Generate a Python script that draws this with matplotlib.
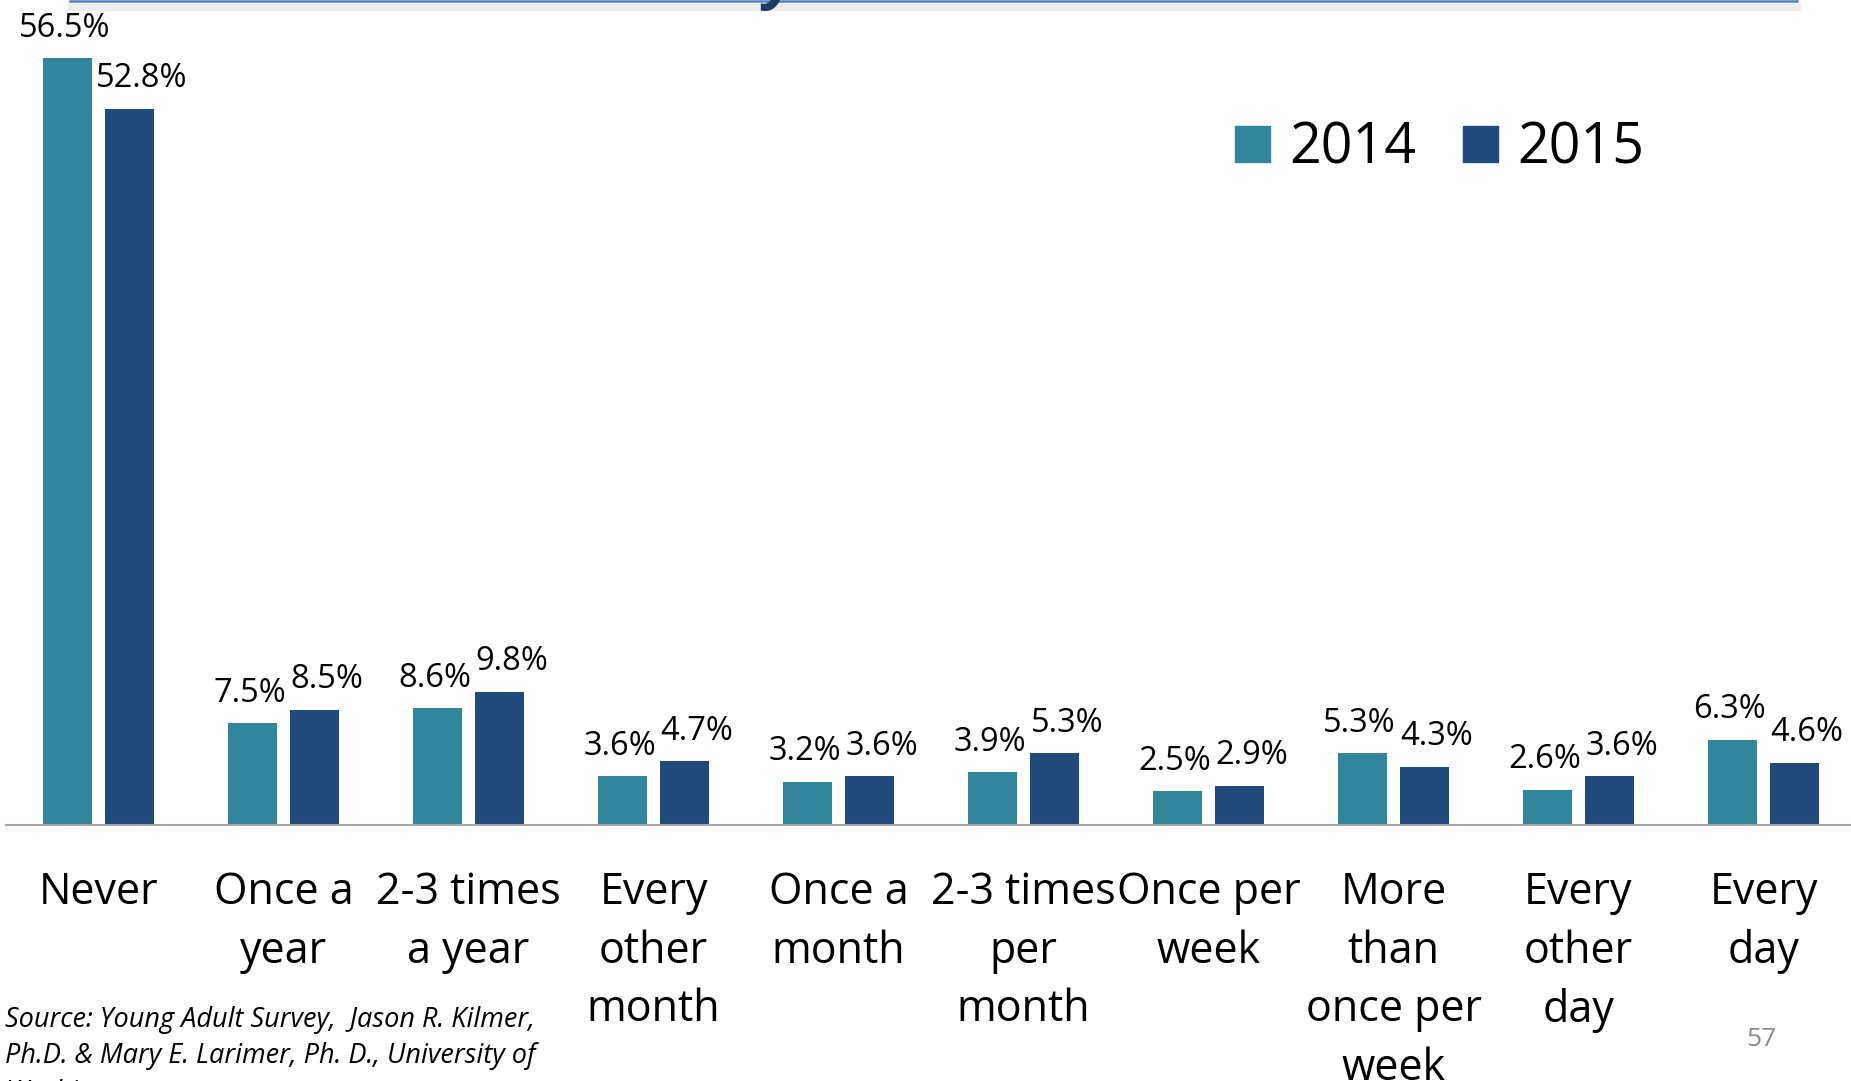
import matplotlib
matplotlib.use('Agg')
import matplotlib.pyplot as plt
from matplotlib.patches import Patch
import numpy as np

plt.rcParams['font.family'] = ['Open Sans', 'DejaVu Sans']

# 数据
categories = ['Never', 'Once a\nyear', '2-3 times\na year', 'Every\nother\nmonth',
              'Once a\nmonth', '2-3 times\nper\nmonth', 'Once per\nweek',
              'More\nthan\nonce per\nweek', 'Every\nother\nday', 'Every\nday']
vals_2014 = [56.5, 7.5, 8.6, 3.6, 3.2, 3.9, 2.5, 5.3, 2.6, 6.3]
vals_2015 = [52.8, 8.5, 9.8, 4.7, 3.6, 5.3, 2.9, 4.3, 3.6, 4.6]
series_names = ['2014', '2015']

c2014 = '#32869c'
c2015 = '#20497c'

W, H = 1851, 1081
fig = plt.figure(figsize=(W / 100, H / 100), dpi=100)

# 坐标轴位置（像素换算）
base_y = 825
ax = fig.add_axes([6 / W, (H - base_y) / H, (W - 6) / W, base_y / H])
ax.set_xlim(-0.5, -0.5 + (W - 6) / 185)
ax.set_ylim(0, base_y / 13.57)

x = np.arange(len(categories))
width = 0.268
off = 0.168
ax.bar(x - off, vals_2014, width, color=c2014)
ax.bar(x + off, vals_2015, width, color=c2015)

# 数据标签
for xi, v in zip(x, vals_2014):
    ax.annotate(f'{v}%', (xi - off, v), xytext=(-2, 15.5), textcoords='offset points',
                ha='center', va='baseline', fontsize=23.5, color='black')
for xi, v in zip(x, vals_2015):
    ax.annotate(f'{v}%', (xi + off, v), xytext=(9, 15.5), textcoords='offset points',
                ha='center', va='baseline', fontsize=23.5, color='black')

# 坐标轴样式
for s in ['top', 'right', 'left']:
    ax.spines[s].set_visible(False)
ax.spines['bottom'].set_color('#a6a6a6')
ax.spines['bottom'].set_linewidth(1.5)
ax.set_yticks([])
ax.set_xticks(x)
ax.set_xticklabels(categories, fontsize=31, linespacing=1.43)
ax.tick_params(axis='x', length=0, pad=32.5)

# 图例
handles = [Patch(color=c2014), Patch(color=c2015)]
fig.legend(handles, series_names, loc='center left', bbox_to_anchor=(1235 / W, 1 - 149 / H),
           ncol=2, frameon=False, fontsize=40, handlelength=0.63, handleheight=0.63,
           handletextpad=0.34, columnspacing=0.85, borderpad=0, borderaxespad=0)

# 来源与页码
fig.text(5 / W, 1 - 1006 / H, 'Source: Young Adult Survey,  Jason R. Kilmer,\nPh.D. & Mary E. Larimer, Ph. D., University of\nWashington',
         ha='left', va='top', fontsize=19.5, style='italic', linespacing=1.4)
fig.text(1761 / W, 1 - 1039 / H, '57', ha='center', va='center', fontsize=19, color='#8c8c8c')

# 顶部标题线（截断）
fig.add_artist(plt.Line2D([70 / W, 1797 / W], [1 - 7 / H, 1 - 7 / H], color='#ededed', lw=5))
fig.add_artist(plt.Line2D([70 / W, 1797 / W], [1 - 1 / H, 1 - 1 / H], color='#4f81bd', lw=1.8))
fig.text(780 / W, 1 + 4 / H, 'y', ha='center', va='baseline', fontsize=44,
         style='italic', weight='bold', color='#1f3864')

plt.savefig('out.png', dpi=100)
